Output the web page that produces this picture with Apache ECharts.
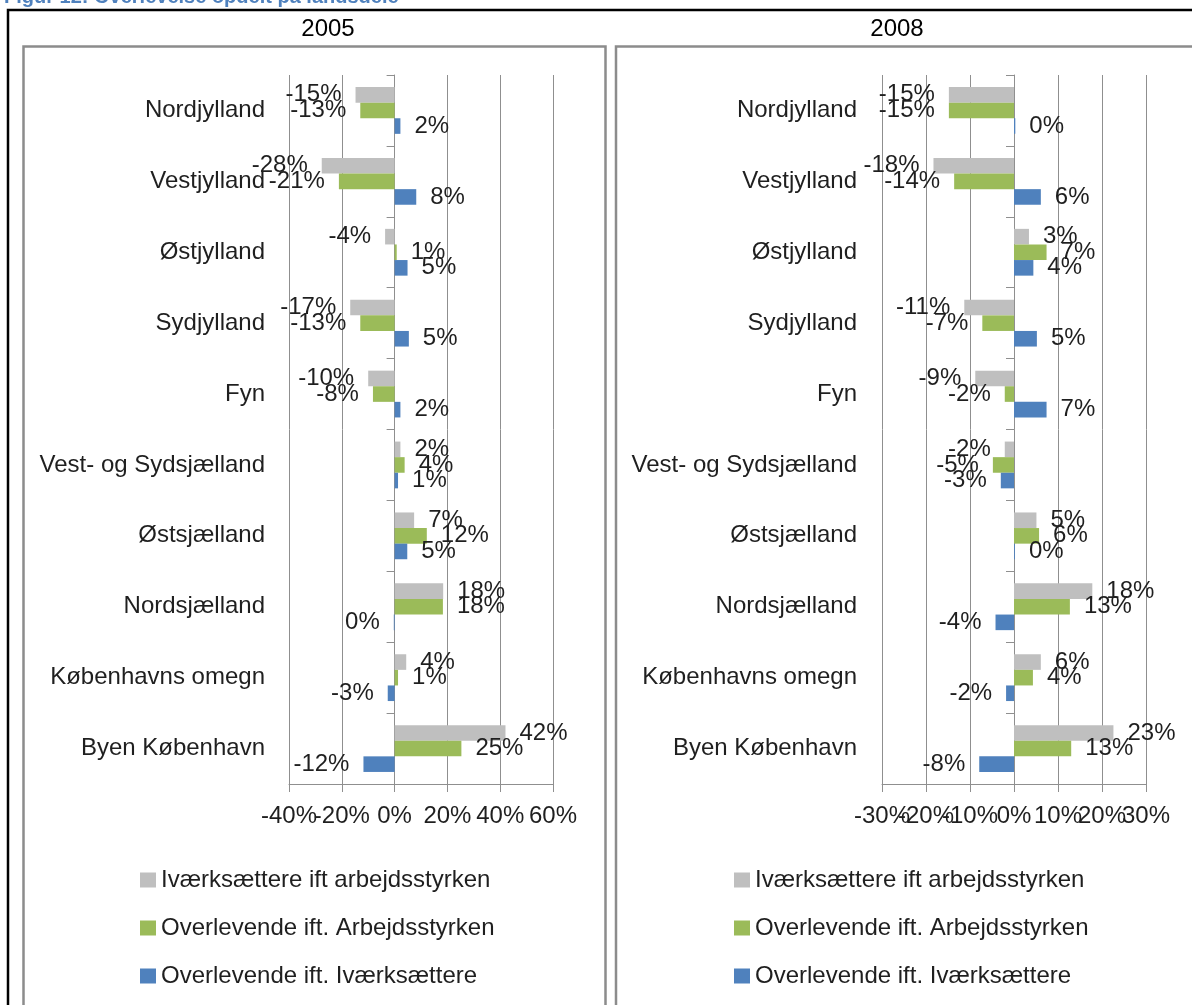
<!DOCTYPE html>
<html>
<head>
<meta charset="utf-8">
<title>Overlevelse opdelt på landsdele</title>
<script src="https://cdn.jsdelivr.net/npm/echarts@6/dist/echarts.min.js"></script>
<style>
  html, body { margin: 0; padding: 0; background: #fff; }
  #main { width: 1192px; height: 1005px; }
</style>
</head>
<body>
<div id="main"></div>
<script>
// landsdele, top to bottom
var categories = ['Nordjylland', 'Vestjylland', 'Østjylland', 'Sydjylland', 'Fyn',
  'Vest- og Sydsjælland', 'Østsjælland', 'Nordsjælland', 'Københavns omegn', 'Byen København'];
var seriesNames = ['Iværksættere ift arbejdsstyrken', 'Overlevende ift. Arbejdsstyrken', 'Overlevende ift. Iværksættere'];
var colors = ['#BFBFBF', '#9BBB59', '#4F81BD'];

// 2005 (%)
var ivaerk2005 = [-14.8, -27.6, -3.6, -16.8, -10, 2.2, 7.4, 18.4, 4.4, 42];
var overArb2005 = [-13, -21.1, 0.8, -13, -8.2, 3.8, 12.2, 18.3, 1.3, 25.3];
var overIv2005 = [2.2, 8.2, 4.9, 5.4, 2.2, 1.3, 4.8, -0.3, -2.6, -11.8];

// 2008 (%)
var ivaerk2008 = [-14.8, -18.3, 3.4, -11.3, -8.8, -2.1, 5.1, 17.8, 6.1, 22.6];
var overArb2008 = [-14.8, -13.6, 7.4, -7.2, -2.1, -4.8, 5.7, 12.7, 4.3, 13];
var overIv2008 = [0.3, 6.1, 4.4, 5.2, 7.4, -3, 0.2, -4.2, -1.8, -7.9];

// x axis ticks
var ticks2005 = { min: -40, max: 60, step: 20 };
var ticks2008 = { min: -30, max: 30, step: 10 };

var FONT = 'Liberation Sans';
var GRID_LINE = '#8f8f8f';
var TEXT = '#1f1f1f';
var PLOT_H = 709;

function makeSeries(name, values, color, xIdx, yIdx) {
  return {
    name: name,
    type: 'bar',
    xAxisIndex: xIdx,
    yAxisIndex: yIdx,
    barGap: 0,
    barCategoryGap: '34%',
    itemStyle: { color: color },
    label: {
      show: true,
      distance: 14,
      fontSize: 24,
      fontFamily: FONT,
      color: TEXT,
      formatter: function (p) { return Math.round(p.value) + '%'; }
    },
    emphasis: { disabled: true },
    data: values.map(function (v) {
      return { value: v, label: { position: v < 0 ? 'left' : 'right' } };
    })
  };
}

// labels overlap like in Excel; echarts drops a neighbour of min/max when they touch,
// so every other label goes on a second (line-less) axis sitting on the same baseline
function tickFormatter(ticks, even) {
  return function (v) {
    var n = Math.round((v - ticks.min) / ticks.step);
    return (n % 2 === 0) === even ? v + '%' : '';
  };
}

function makeX(ticks, idx) {
  return {
    type: 'value',
    gridIndex: idx,
    position: 'bottom',
    min: ticks.min,
    max: ticks.max,
    interval: ticks.step,
    axisLine: { show: true, lineStyle: { color: GRID_LINE, width: 1 } },
    axisTick: { show: true, length: 8, lineStyle: { color: GRID_LINE } },
    axisLabel: {
      margin: 20, fontSize: 24, fontFamily: FONT, color: TEXT,
      showMinLabel: true, showMaxLabel: true,
      formatter: tickFormatter(ticks, true)
    },
    splitLine: { show: true, lineStyle: { color: GRID_LINE, width: 1 } }
  };
}

function makeX2(ticks, idx) {
  return {
    type: 'value',
    gridIndex: idx,
    position: 'top',
    offset: -PLOT_H,
    min: ticks.min,
    max: ticks.max,
    interval: ticks.step,
    axisLine: { show: false },
    axisTick: { show: false },
    splitLine: { show: false },
    axisLabel: {
      inside: true, margin: 20, fontSize: 24, fontFamily: FONT, color: TEXT,
      showMinLabel: true, showMaxLabel: true,
      formatter: tickFormatter(ticks, false)
    }
  };
}

function makeY(idx, labelMargin) {
  return {
    type: 'category',
    gridIndex: idx,
    inverse: true,
    data: categories,
    axisLine: { show: true, onZero: true, lineStyle: { color: GRID_LINE, width: 1 } },
    axisTick: { show: true, length: 8, lineStyle: { color: GRID_LINE } },
    axisLabel: { margin: labelMargin, fontSize: 24, fontFamily: FONT, color: TEXT, interval: 0 }
  };
}

function makeLegend(left) {
  return {
    orient: 'vertical',
    left: left,
    top: 863,
    itemWidth: 16,
    itemHeight: 15,
    itemGap: 24,
    icon: 'rect',
    selectedMode: false,
    data: seriesNames,
    textStyle: { fontSize: 24, lineHeight: 24, fontFamily: FONT, color: TEXT }
  };
}

var chart = echarts.init(document.getElementById('main'));
var option = {
  animation: false,
  color: colors,
  textStyle: { fontFamily: FONT },
  grid: [
    { left: 289, top: 75, width: 264, height: PLOT_H, containLabel: false, outerBoundsMode: 'none' },
    { left: 882, top: 75, width: 264, height: PLOT_H, containLabel: false, outerBoundsMode: 'none' }
  ],
  xAxis: [makeX(ticks2005, 0), makeX2(ticks2005, 0), makeX(ticks2008, 1), makeX2(ticks2008, 1)],
  yAxis: [makeY(0, 24), makeY(1, 25)],
  legend: [makeLegend(135), makeLegend(729)],
  series: [
    makeSeries(seriesNames[0], ivaerk2005, colors[0], 0, 0),
    makeSeries(seriesNames[1], overArb2005, colors[1], 0, 0),
    makeSeries(seriesNames[2], overIv2005, colors[2], 0, 0),
    makeSeries(seriesNames[0], ivaerk2008, colors[0], 2, 1),
    makeSeries(seriesNames[1], overArb2008, colors[1], 2, 1),
    makeSeries(seriesNames[2], overIv2008, colors[2], 2, 1)
  ],
  graphic: [
    // figure caption, cut off at the top of the page
    { type: 'text', left: 4, top: -13,
      style: { text: 'Figur 12: Overlevelse opdelt på landsdele', fill: '#4F81BD',
        font: 'bold 20px "Liberation Sans"' } },
    { type: 'rect', shape: { x: 8, y: 10, width: 1200, height: 1010 },
      style: { fill: 'transparent', stroke: '#000', lineWidth: 2.5 } },
    { type: 'rect', shape: { x: 23.5, y: 46.5, width: 582, height: 1000 },
      style: { fill: 'transparent', stroke: '#8c8c8c', lineWidth: 2.5 } },
    { type: 'rect', shape: { x: 616, y: 46.5, width: 600, height: 1000 },
      style: { fill: 'transparent', stroke: '#8c8c8c', lineWidth: 2.5 } },
    { type: 'text', x: 328, y: 29,
      style: { text: '2005', fill: '#000', font: '24px "Liberation Sans"', align: 'center', verticalAlign: 'middle' } },
    { type: 'text', x: 897, y: 29,
      style: { text: '2008', fill: '#000', font: '24px "Liberation Sans"', align: 'center', verticalAlign: 'middle' } }
  ]
};
chart.setOption(option);
</script>
</body>
</html>
